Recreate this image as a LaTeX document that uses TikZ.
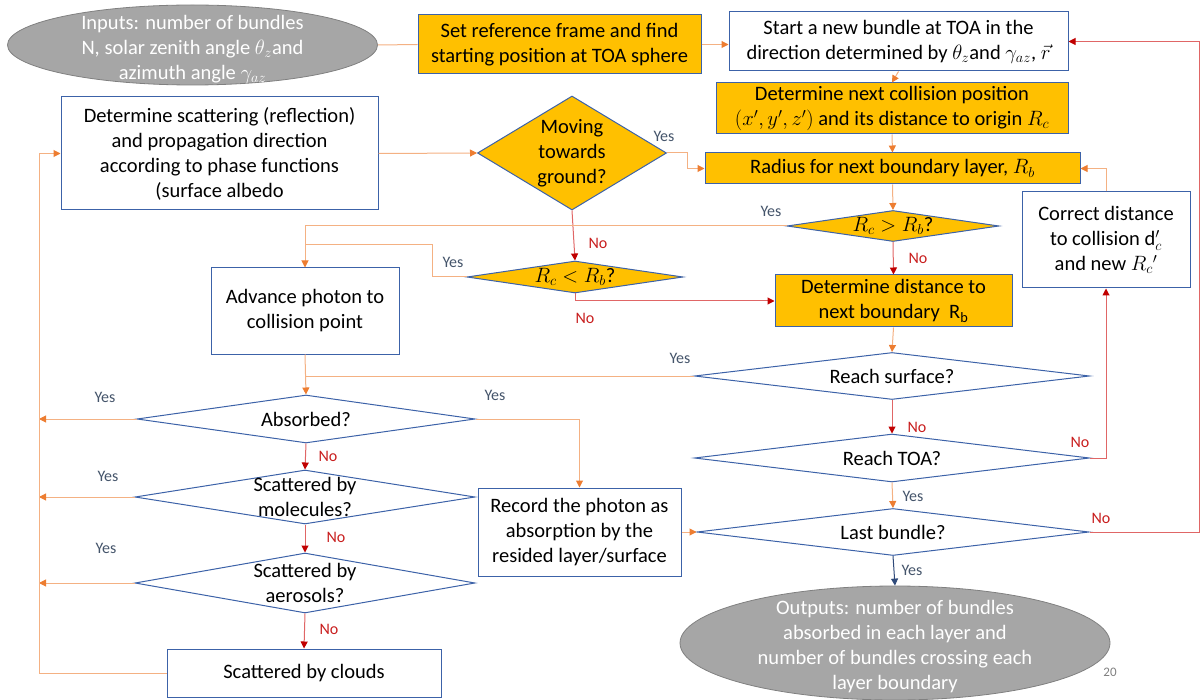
\documentclass[tikz,border=0pt]{standalone}
\usepackage{fontspec}
\setmainfont{Carlito}
\usetikzlibrary{arrows.meta,shapes.geometric,calc}
\definecolor{boxblue}{HTML}{3C62A8}
\definecolor{gold}{HTML}{FFC000}
\definecolor{lineor}{HTML}{F4B183}
\definecolor{tipor}{HTML}{ED7D31}
\definecolor{linered}{HTML}{E06666}
\definecolor{tipred}{HTML}{C00000}
\definecolor{yescol}{HTML}{44546A}
\definecolor{nocol}{HTML}{C81E1E}
\definecolor{ellfill}{HTML}{A6A6A6}
\definecolor{elldraw}{HTML}{808080}
\definecolor{darkarr}{HTML}{2F4A7A}
\begin{document}
\begin{tikzpicture}[x=1pt,y=-1pt,
  txt/.style={font=\fontsize{20.5}{25}\selectfont, align=center},
  box/.style={txt, draw=boxblue, line width=1pt, fill=white, inner sep=0pt},
  gbox/.style={box, fill=gold},
  dia/.style={diamond, draw=boxblue, line width=1pt, fill=white, inner sep=0pt},
  gdia/.style={dia, fill=gold},
  dtxt/.style={txt, inner sep=0pt},
  ell/.style={ellipse, draw=elldraw, line width=0.8pt, fill=ellfill, inner sep=0pt},
  etxt/.style={txt, text=white, inner sep=0pt, yshift=-4pt},
  oline/.style={draw=lineor, line width=1pt},
  oarr/.style={oline, -{Triangle[length=7pt,width=7pt,color=tipor]}},
  rline/.style={draw=linered, line width=1pt},
  rarr/.style={rline, -{Triangle[length=7pt,width=7pt,color=tipred]}},
  barr/.style={draw=darkarr, line width=1pt, -{Triangle[length=7pt,width=7pt,color=darkarr]}},
  yes/.style={font=\fontsize{16}{18}\selectfont, text=yescol, inner sep=0pt},
  no/.style={font=\fontsize{16}{18}\selectfont, text=nocol, inner sep=0pt}
]
\useasboundingbox (0,0) rectangle (1204,700);

% ellipses
\node[ell, minimum width=370pt, minimum height=80pt,
  label={[etxt]center:{Inputs: number of bundles\\N, solar zenith angle $\theta_z$and\\azimuth angle $\gamma_{az}$}}] (in) at (192.5,45) {};
\node[ell, minimum width=430pt, minimum height=114pt,
  label={[etxt]center:{Outputs: number of bundles\\absorbed in each layer and\\number of bundles crossing each\\layer boundary}}] (out) at (895,643) {};

% boxes
\node[gbox, minimum width=283pt, minimum height=59pt] (set) at (559.5,44.5) {Set reference frame and find\\starting position at TOA sphere};
\node[box, minimum width=339pt, minimum height=59pt] (start) at (898.5,41.5) {Start a new bundle at TOA in the\\direction determined by $\theta_z$and $\gamma_{az}$, $\vec{r}$};
\node[gbox, minimum width=352pt, minimum height=51pt] (coll) at (892,108.5) {Determine next collision position\\$(x',y',z')$ and its distance to origin $R_c$};
\node[gbox, minimum width=375pt, minimum height=31pt] (rad) at (892.5,168.5) {Radius for next boundary layer, $R_b$};
\node[box, minimum width=317pt, minimum height=113pt] (scat) at (219.5,153.5) {Determine scattering (reflection)\\and propagation direction\\according to phase functions\\(surface albedo};
\node[box, minimum width=188pt, minimum height=86pt] (adv) at (305,311) {Advance photon to\\collision point};
\node[gbox, minimum width=237pt, minimum height=52pt] (dist) at (893.5,301) {Determine distance to\\next boundary \ $\mathrm{R_b}$};
\node[box, minimum width=168pt, minimum height=96pt] (corr) at (1106,240) {Correct distance\\to collision $\mathrm{d}'_c$\\and new $R_c{}'$};
\node[box, minimum width=203pt, minimum height=88pt] (rec) at (579.5,532) {Record the photon as\\absorption by the\\resided layer/surface};
\node[box, minimum width=274pt, minimum height=48pt] (cloud) at (304,673) {Scattered by clouds};

% diamonds
\node[gdia, minimum width=189pt, minimum height=114pt,
  label={[dtxt]center:{Moving\\towards\\ground?}}] (mov) at (572,153) {};
\node[gdia, minimum width=212pt, minimum height=31pt,
  label={[dtxt]center:{$R_c > R_b$?}}] (gt) at (893,226) {};
\node[gdia, minimum width=216pt, minimum height=32pt,
  label={[dtxt]center:{$R_c < R_b$?}}] (lt) at (575,277) {};
\node[dia, minimum width=395pt, minimum height=47pt,
  label={[dtxt]center:{Reach surface?}}] (surf) at (892,376) {};
\node[dia, minimum width=395pt, minimum height=48pt,
  label={[dtxt]center:{Reach TOA?}}] (toa) at (892,458) {};
\node[dia, minimum width=392pt, minimum height=47pt,
  label={[dtxt]center:{Last bundle?}}] (last) at (893,532) {};
\node[dia, minimum width=338pt, minimum height=48pt,
  label={[dtxt]center:{Absorbed?}}] (abs) at (306,419) {};
\node[dia, minimum width=340pt, minimum height=54pt,
  label={[dtxt]center:{Scattered by\\molecules?}}] (mol) at (305,497) {};
\node[dia, minimum width=340pt, minimum height=60pt,
  label={[dtxt]center:{Scattered by\\aerosols?}}] (aer) at (305,583) {};

\coordinate (L) at (39,0);
\coordinate (R) at (1199,0);

% connectors
\draw[oline] (in.east) -- (set.west);
\draw[oarr] (set.east) -- (start.west |- set.east);
\draw[oarr] (start.south) -- (coll.north);
\draw[oarr] (coll.south) -- (rad.north);
\draw[oarr] (scat.east) -- (mov.west);
\draw[oarr] (mov.east) -- ++(20,0) |- (rad.west);
\draw[rarr] (mov.south) -- (lt.north);
\draw[oarr] (rad.south) -- (gt.north);
\draw[oarr] (gt.west) -| (adv.north);
\draw[oline] (lt.west) -- ++(-34,0) |- ($(adv.north)+(0,-23)$);
\draw[rarr] (lt.south) |- (dist.west);
\draw[rarr] (gt.south) -- (dist.north);
\draw[oarr] (dist.south) -- (surf.north);
\draw[oline] (surf.west) -- (surf.west -| adv.south);
\draw[oarr] (adv.south) -- (abs.north);
\draw[rarr] (surf.south) -- (toa.north);
\draw[rarr] (toa.east) -| (corr.south);
\draw[oarr] (corr.north) |- (rad.east);
\draw[oarr] (toa.south) -- (last.north);
\draw[rarr] (last.east) -- (last.east -| R) |- (start.east);
\draw[barr] (last.south) -- (out.north);
\draw[oarr] (rec.east) -- (last.west);
\draw[oarr] (abs.east) -| (rec.north);
\draw[oarr] (abs.west) -- (abs.west -| L);
\draw[oarr] (mol.west) -- (mol.west -| L);
\draw[oarr] (aer.west) -- (aer.west -| L);
\draw[oarr] (cloud.west) -- (cloud.west -| L) |- (scat.west);
\draw[rarr] (abs.south) -- (mol.north);
\draw[rarr] (mol.south) -- (aer.north);
\draw[rarr] (aer.south) -- (cloud.north);

% labels
\node[yes] (y1) at (664,136) {Yes};
\node[no] (n1) at (598,243) {No};
\node[yes] (y2) at (771,211) {Yes};
\node[no] (n2) at (918,258) {No};
\node[yes] (y3) at (453,262) {Yes};
\node[no] (n3) at (585,318) {No};
\node[yes] (y4) at (680,358) {Yes};
\node[no] (n4) at (917,427) {No};
\node[no] (n5) at (1080,442) {No};
\node[yes] (y5) at (913,496) {Yes};
\node[no] (n6) at (1101,518) {No};
\node[yes] (y6) at (912,570) {Yes};
\node[yes] (y7) at (105,397) {Yes};
\node[yes] (y8) at (495,395) {Yes};
\node[no] (n7) at (328,456) {No};
\node[yes] (y9) at (108,476) {Yes};
\node[no] (n8) at (336,537) {No};
\node[yes] (y10) at (106,548) {Yes};
\node[no] (n9) at (329,629) {No};
\node[font=\fontsize{13}{15}\selectfont, text=gray, inner sep=0pt] (pg) at (1110,672) {20};
\end{tikzpicture}
\end{document}
